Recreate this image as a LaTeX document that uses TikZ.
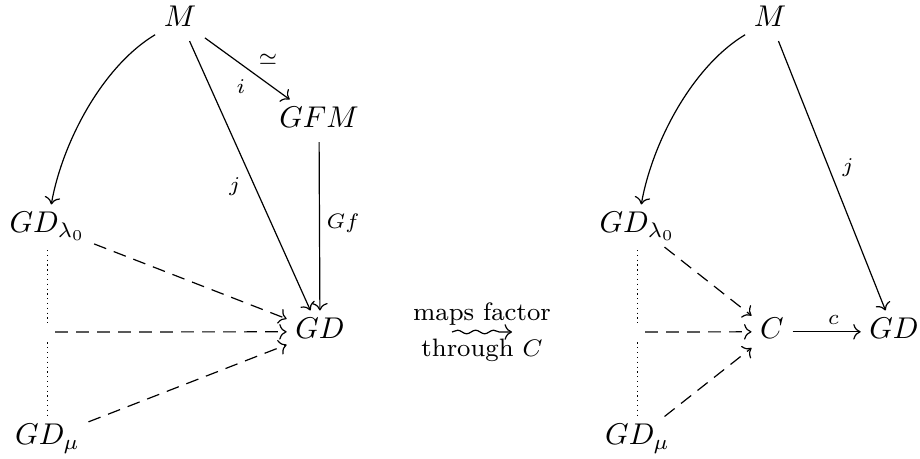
\documentclass[tikz,border=0pt]{standalone}
\usetikzlibrary{cd,decorations.pathmorphing}
\begin{document}
\begin{tikzpicture}[x=0.3333pt,y=-0.3333pt,
  obj/.style={inner xsep=2.7pt,inner ysep=2.7pt,text height=6.6pt,text depth=1.8pt},
  gapnode/.style={inner sep=2.3pt},
  ar/.style={-{cm to}},
  dar/.style={-{cm to},dash pattern=on 4.3pt off 2.7pt},
  dots/.style={dash pattern=on 0.4pt off 1.2pt,shorten <=1pt},
  lab/.style={font=\scriptsize,inner sep=2.2pt},
  midlab/.style={font=\fontsize{8.4}{10}\selectfont,inner sep=2pt},
  squig/.style={-{cm to},decorate,decoration={snake,amplitude=0.6pt,segment length=6pt,post length=2.5pt}}]
\useasboundingbox (0,0) rectangle (920,459);
% ---------- left diagram ----------
\node[obj] (M)   at (180,19.8)  {$M$};
\node[obj] (GFM) at (319,120.8) {$GFM$};
\node[obj] (GDl) at (47.5,225.8)  {$GD_{\lambda_0}$};
\node[obj] (GD)  at (320,331.8) {$GD$};
\node[obj] (GDm) at (47.5,437.8)  {$GD_{\mu}$};
\node[gapnode] (mid) at (47.5,332) {};
\draw[ar] (M) to[out=211,in=80,looseness=0.8] (GDl);
\draw[ar] (M) -- node[lab,auto,pos=0.55] {$\simeq$} node[lab,auto,swap,pos=0.56] {$i$} (GFM);
\draw[ar] (M) -- node[lab,auto,swap,pos=0.48] {$j$} (GD);
\draw[ar] (GFM) -- node[lab,auto,pos=0.48] {$Gf$} (GD);
\draw[dar] (GDl) -- (GD);
\draw[dar] (mid) -- (GD);
\draw[dar] (GDm) -- (GD);
\draw[dots] (GDl.south) -- (mid);
\draw[dots] (mid) -- (GDm.north);
% ---------- middle ----------
\coordinate (sqa) at (452,332);
\coordinate (sqb) at (512,332);
\draw[squig] (sqa) -- node[midlab,above] {maps factor} node[midlab,below] {through $C$} (sqb);
% ---------- right diagram ----------
\node[obj] (M2)   at (770,19.8)  {$M$};
\node[obj] (GDl2) at (637.5,225.8) {$GD_{\lambda_0}$};
\node[obj] (C)    at (772,331.8) {$C$};
\node[obj] (GD2)  at (894,331.8) {$GD$};
\node[obj] (GDm2) at (637.5,437.8) {$GD_{\mu}$};
\node[gapnode] (mid2) at (637.5,332) {};
\draw[ar] (M2) to[out=211,in=80,looseness=0.8] (GDl2);
\draw[ar] (M2) -- node[lab,auto,pos=0.53] {$j$} (GD2);
\draw[ar] (C) -- node[lab,auto,pos=0.6] {$c$} (GD2);
\draw[dar] (GDl2) -- (C);
\draw[dar] (mid2) -- (C);
\draw[dar] (GDm2) -- (C);
\draw[dots] (GDl2.south) -- (mid2);
\draw[dots] (mid2) -- (GDm2.north);
\end{tikzpicture}
\end{document}
